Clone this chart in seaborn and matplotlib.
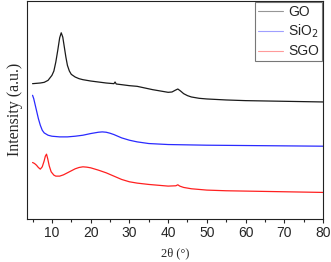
import numpy as np
import pandas as pd
import matplotlib
matplotlib.use("Agg")
import matplotlib.pyplot as plt
from matplotlib.ticker import MultipleLocator
import seaborn as sns

# XRD patterns (intensity in arbitrary units, curves stacked with offsets)
go_2theta = [5, 6, 7, 8, 9, 10, 10.5, 11, 11.5, 12, 12.4, 12.8, 13.2, 13.6, 14, 14.5, 15, 16, 17, 18,
             20, 22, 24, 26, 26.3, 26.6, 28, 30, 32, 34, 36, 38, 40, 41, 41.8, 42.5, 43.2, 44, 45,
             46, 48, 50, 55, 60, 65, 70, 75, 80]
go_int = [450, 451, 452, 454, 460, 475, 488, 515, 550, 588, 603, 590, 560, 530, 505, 488, 478, 470, 465, 462,
          458, 455, 452, 450, 455, 449, 447, 444, 442, 437, 432, 428, 424, 425, 430, 434, 428, 420, 414,
          410, 406, 404, 401, 399, 398, 397, 396, 395]

sio2_2theta = [5, 5.3, 5.6, 6, 6.5, 7, 7.5, 8, 9, 10, 12, 14, 16, 18, 20, 22, 23, 24, 25, 26, 27,
               28, 30, 32, 35, 40, 45, 50, 60, 70, 80]
sio2_int = [415, 405, 390, 370, 345, 325, 310, 302, 295, 292, 290, 290, 292, 295, 300, 304, 305, 304, 301,
            297, 292, 287, 280, 275, 270, 267, 266, 265, 264, 263, 262]

sgo_2theta = [5, 5.5, 6, 6.5, 7, 7.5, 8, 8.3, 8.6, 8.9, 9.3, 9.8, 10.5, 11, 12, 13, 14, 15, 16, 17, 18,
              19, 20, 22, 24, 26, 28, 30, 32, 35, 38, 40, 42, 42.5, 43, 44, 46, 50, 55, 60, 70, 80]
sgo_int = [213, 210, 205, 198, 193, 200, 218, 232, 238, 225, 203, 185, 175, 172, 172, 176, 182, 188, 194, 198, 200,
           199, 197, 190, 182, 172, 162, 155, 151, 147, 144, 142, 143, 146, 142, 138, 134, 130, 128, 127, 125, 123]

df = pd.concat([
    pd.DataFrame({"x": go_2theta, "y": go_int, "sample": "GO"}),
    pd.DataFrame({"x": sio2_2theta, "y": sio2_int, "sample": "SiO$_2$"}),
    pd.DataFrame({"x": sgo_2theta, "y": sgo_int, "sample": "SGO"}),
])

sns.set_style("ticks")
plt.rcParams["font.family"] = ["Liberation Sans", "DejaVu Sans"]

fig = plt.figure(figsize=(3.31, 2.62), dpi=100)
ax = fig.add_axes([0.082, 0.164, 0.894, 0.834])
sns.lineplot(data=df, x="x", y="y", hue="sample", sort=False,
             palette=["#1a1a1a", "#2a2aff", "#ff2020"], linewidth=0.9, ax=ax)

ax.set_xlim(3.6, 80)
ax.set_ylim(43, 700)
ax.set_xticks([10, 20, 30, 40, 50, 60, 70, 80])
ax.xaxis.set_minor_locator(MultipleLocator(5))
ax.set_yticks([])
ax.tick_params(axis="x", which="major", direction="out", length=3, width=0.8, labelsize=10, pad=2)
ax.tick_params(axis="x", which="minor", direction="out", length=2, width=0.8)
for s in ax.spines.values():
    s.set_linewidth(0.8)
    s.set_color("#222222")

ax.set_xlabel("2θ (°)", family="Liberation Serif", fontsize=9, labelpad=5)
ax.set_ylabel("Intensity (a.u.)", family="Liberation Serif", fontsize=11.5, labelpad=3)

leg = ax.legend(title=None, loc="upper right", fontsize=10, frameon=True, fancybox=False,
                handlelength=1.8, handletextpad=0.35, labelspacing=0.3, borderpad=0.2,
                borderaxespad=0.1)
leg.get_frame().set_edgecolor("#555555")
leg.get_frame().set_linewidth(0.8)
for line in leg.get_lines():
    line.set_linewidth(0.8)
    line.set_alpha(0.45)

fig.savefig("out.png", dpi=100)
